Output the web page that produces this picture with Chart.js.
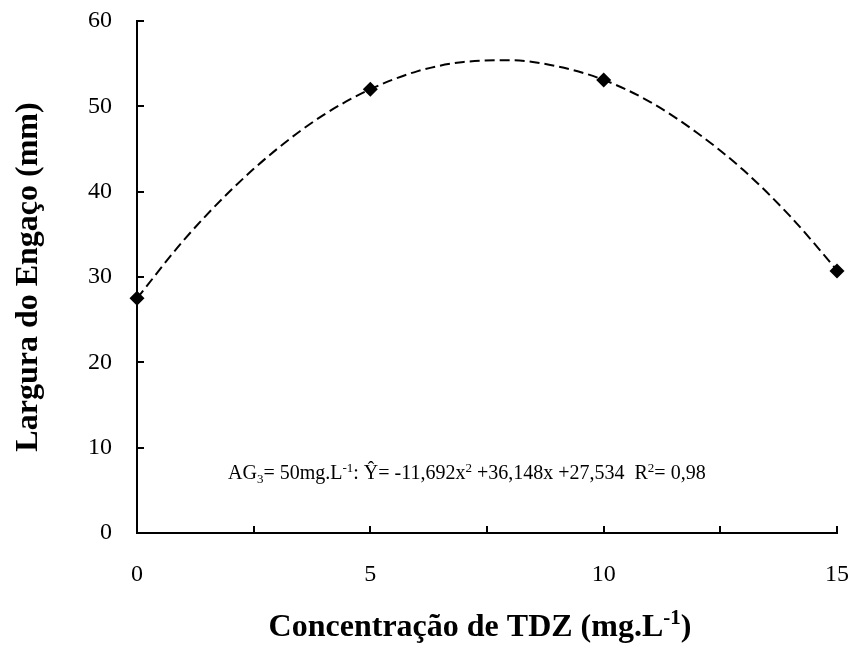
<!DOCTYPE html>
<html>
<head>
<meta charset="utf-8">
<script src="https://cdn.jsdelivr.net/npm/chart.js@4.4.1/dist/chart.umd.min.js"></script>
<style>
  html, body { margin: 0; padding: 0; background: #fff; }
  #wrap { width: 851px; height: 648px; }
</style>
</head>
<body>
<div id="wrap"><canvas id="chart"></canvas></div>
<script>
/* ─── Data ─────────────────────────────────────── */
const tdzDoses = [0, 5, 10, 15];
const stalkWidth = [27.5, 52.0, 53.1, 30.7];

// dashed trend line
const trendX = [0, 1, 2, 3, 4, 5, 6, 7, 8, 9, 10, 11, 12, 13, 14, 15];
const trendY = [27.5, 34.3, 40.1, 45.0, 49.0, 52.0, 54.1, 55.2, 55.4, 54.7, 53.1, 50.5, 46.9, 42.5, 37.1, 30.8];

const xTickLabels = ['0', '5', '10', '15'];
const yTickLabels = ['0', '10', '20', '30', '40', '50', '60'];

const SERIF = '"Liberation Serif", "Times New Roman", serif';

/* ─── Plugins ──────────────────────────────────── */
// Excel-style ticks pointing into the plot
const innerTicks = {
  id: 'innerTicks',
  afterDraw(chart) {
    const { ctx, chartArea: a, scales: { x, y } } = chart;
    ctx.save();
    ctx.strokeStyle = '#000';
    ctx.lineWidth = 2;
    ctx.beginPath();
    x.ticks.forEach(t => {
      const px = Math.round(x.getPixelForValue(t.value));
      ctx.moveTo(px, a.bottom);
      ctx.lineTo(px, a.bottom - 7);
    });
    y.ticks.forEach(t => {
      const py = Math.round(y.getPixelForValue(t.value));
      ctx.moveTo(a.left, py);
      ctx.lineTo(a.left + 7, py);
    });
    ctx.stroke();
    ctx.restore();
  }
};

function drawRuns(ctx, runs, x0, baseline, size, bold) {
  let x = x0;
  const w = bold ? 'bold ' : '';
  runs.forEach(([txt, kind]) => {
    const fs = kind === 'n' ? size : Math.round(size * 0.65);
    const dy = kind === 'sup' ? -size * 0.38 : kind === 'sub' ? size * 0.2 : 0;
    ctx.font = `${w}${fs}px ${SERIF}`;
    ctx.fillText(txt, x, baseline + dy);
    x += ctx.measureText(txt).width;
  });
  return x - x0;
}

function measureRuns(ctx, runs, size, bold) {
  const w = bold ? 'bold ' : '';
  return runs.reduce((acc, [txt, kind]) => {
    const fs = kind === 'n' ? size : Math.round(size * 0.65);
    ctx.font = `${w}${fs}px ${SERIF}`;
    return acc + ctx.measureText(txt).width;
  }, 0);
}

const equationRuns = [
  ['AG', 'n'], ['3', 'sub'], ['= 50mg.L', 'n'], ['-1', 'sup'],
  [': Ŷ= -11,692x', 'n'], ['2', 'sup'], [' +36,148x +27,534  R', 'n'], ['2', 'sup'], ['= 0,98', 'n'],
];
const xTitleRuns = [['Concentração de TDZ (mg.L', 'n'], ['-1', 'sup'], [')', 'n']];

const annotations = {
  id: 'annotations',
  afterDraw(chart) {
    const { ctx, chartArea: a, scales: { x, y } } = chart;
    ctx.save();
    ctx.fillStyle = '#000';
    ctx.textBaseline = 'alphabetic';
    ctx.textAlign = 'left';
    // regression equation
    drawRuns(ctx, equationRuns, x.getPixelForValue(1.95), y.getPixelForValue(6.3), 20, false);
    // x axis title with superscript
    const tw = measureRuns(ctx, xTitleRuns, 32, true);
    const cx = (a.left + a.right) / 2 - 7;
    drawRuns(ctx, xTitleRuns, cx - tw / 2, chart.height - 12, 32, true);
    ctx.restore();
  }
};

/* ─── Chart ────────────────────────────────────── */
new Chart(document.getElementById('chart'), {
  type: 'scatter',
  data: {
    datasets: [
      {
        label: 'Largura',
        data: tdzDoses.map((d, i) => ({ x: d, y: stalkWidth[i] })),
        pointStyle: 'rectRot', pointRadius: 7.5, pointHoverRadius: 7.5,
        backgroundColor: '#000', borderColor: '#000', borderWidth: 0,
        showLine: false, order: 0, clip: false,
      },
      {
        label: 'Tendência',
        data: trendX.map((d, i) => ({ x: d, y: trendY[i] })),
        showLine: true, borderColor: '#000', borderWidth: 2,
        borderDash: [10, 5], tension: 0.4, cubicInterpolationMode: 'monotone',
        pointRadius: 0, fill: false, order: 1, clip: false,
      },
    ]
  },
  options: {
    responsive: true, maintainAspectRatio: false, animation: false,
    layout: { padding: { top: 21, right: 14, bottom: 0, left: 0 } },
    plugins: { legend: { display: false }, tooltip: { enabled: false } },
    scales: {
      x: {
        type: 'linear', min: 0, max: 15,
        afterFit: s => { s.height = 115; s.paddingLeft = 0; s.paddingRight = 0; },
        afterBuildTicks: s => { s.ticks = [0, 2.5, 5, 7.5, 10, 12.5, 15].map(v => ({ value: v })); },
        grid: { display: false, drawTicks: false },
        border: { display: true, color: '#000', width: 2 },
        ticks: {
          padding: 27, color: '#000', maxRotation: 0, autoSkip: false,
          font: { family: SERIF, size: 24 },
          callback: v => (v % 5 === 0 ? xTickLabels[v / 5] : ''),
        },
        title: { display: false },
      },
      y: {
        min: 0, max: 60,
        afterFit: s => { s.width = 137; s.paddingTop = 0; s.paddingBottom = 0; },
        grid: { display: false, drawTicks: false },
        border: { display: true, color: '#000', width: 2 },
        ticks: {
          stepSize: 10, padding: 25, color: '#000',
          font: { family: SERIF, size: 24 },
          callback: v => yTickLabels[v / 10],
        },
        title: {
          display: true, text: 'Largura do Engaço (mm)', color: '#000',
          font: { family: SERIF, size: 32, weight: 'bold' },
          padding: { top: 10, bottom: 0 },
        },
      },
    },
  },
  plugins: [innerTicks, annotations],
});
</script>
</body>
</html>
